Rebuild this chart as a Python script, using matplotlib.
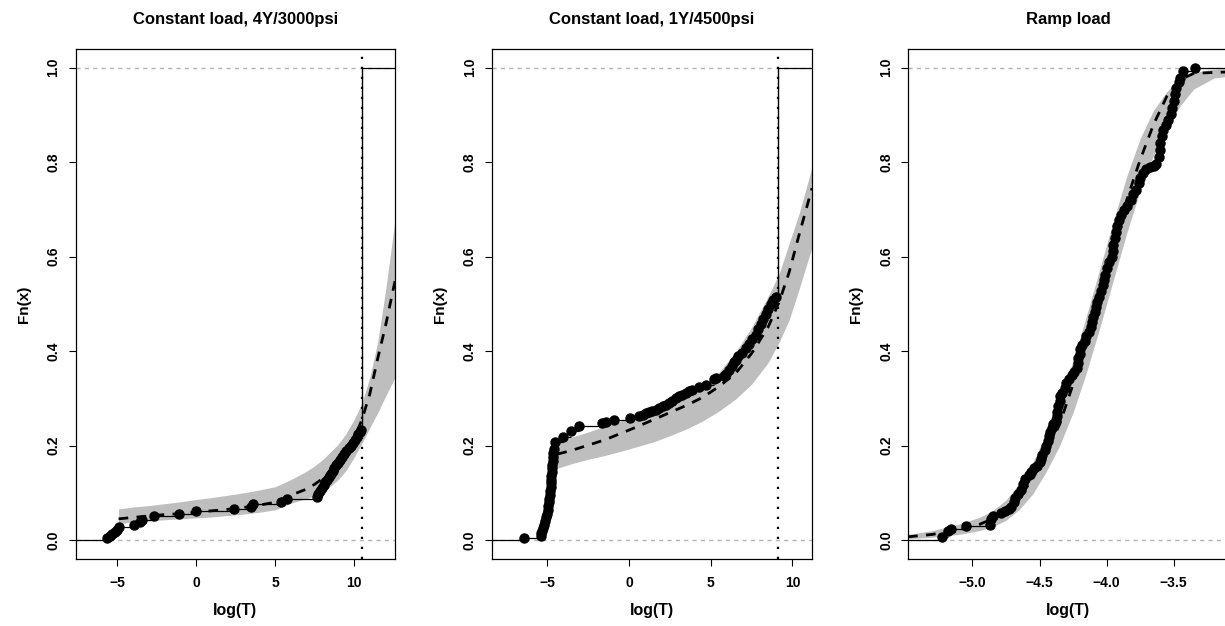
import numpy as np
import matplotlib
matplotlib.use('Agg')
import matplotlib.pyplot as plt

plt.rcParams['font.family'] = ['Liberation Sans', 'DejaVu Sans']
plt.rcParams['font.weight'] = 'bold'

titles = ['Constant load, 4Y/3000psi', 'Constant load, 1Y/4500psi', 'Ramp load']
y_ticks = [0.0, 0.2, 0.4, 0.6, 0.8, 1.0]
y_ticklabels = ['0.0', '0.2', '0.4', '0.6', '0.8', '1.0']

# panel 1: constant load 4Y/3000psi
x1 = [-5.61, -5.45, -5.3, -5.15, -5.0, -4.88, -3.92, -3.54, -3.42, -2.64, -1.08, -0.02,
      2.41, 3.46, 3.6, 5.36, 5.78, 7.64, 7.74, 7.85, 7.96, 8.07, 8.18, 8.29, 8.40,
      8.52, 8.64, 8.76, 8.88, 9.0, 9.13, 9.26, 9.39, 9.52, 9.65, 9.78, 9.92, 10.04,
      10.16, 10.27, 10.36, 10.44]
y1 = [0.004, 0.008, 0.013, 0.018, 0.022, 0.027, 0.033, 0.038, 0.043, 0.050, 0.056, 0.061,
      0.066, 0.071, 0.076, 0.081, 0.086, 0.092, 0.098, 0.104, 0.110, 0.116, 0.122, 0.128,
      0.134, 0.140, 0.146, 0.152, 0.158, 0.164, 0.170, 0.176, 0.182, 0.188, 0.194, 0.200,
      0.206, 0.212, 0.218, 0.224, 0.229, 0.234]
cens1 = 10.53
fit_x1 = [-4.9, -4, -3, -2, -1, 0, 1, 2, 3, 4, 5, 6, 7, 7.5, 8, 9, 9.5, 10, 10.5, 11, 11.5, 12, 12.6]
fit_y1 = [0.045, 0.048, 0.051, 0.054, 0.056, 0.059, 0.062, 0.065, 0.069, 0.074, 0.080, 0.095,
          0.108, 0.118, 0.130, 0.163, 0.186, 0.215, 0.255, 0.31, 0.385, 0.455, 0.55]
lo1 = [0.035, 0.038, 0.041, 0.043, 0.045, 0.047, 0.049, 0.052, 0.055, 0.059, 0.064, 0.078,
       0.088, 0.094, 0.100, 0.128, 0.148, 0.175, 0.205, 0.238, 0.27, 0.305, 0.345]
hi1 = [0.066, 0.070, 0.073, 0.077, 0.081, 0.086, 0.090, 0.095, 0.100, 0.106, 0.113, 0.128,
       0.146, 0.157, 0.170, 0.203, 0.226, 0.255, 0.29, 0.345, 0.42, 0.53, 0.68]

# panel 2: constant load 1Y/4500psi
x2 = [-6.45, -5.42, -5.36, -5.3, -5.25, -5.2, -5.14, -5.08, -5.03, -4.99, -4.95, -4.91,
      -4.88, -4.85, -4.82, -4.8, -4.78, -4.76, -4.75, -4.74, -4.72, -4.7, -4.68, -4.66,
      -4.63, -4.6, -4.53, -4.04, -3.57, -3.06, -1.63, -1.4, -0.92, 0.04, 0.61, 0.85, 1.02,
      1.25, 1.43, 1.65, 1.84, 2.05, 2.25, 2.45, 2.65, 2.85, 3.06, 3.27, 3.47, 3.68, 3.88,
      4.29, 4.7, 5.21, 5.3, 5.82, 5.95, 6.12, 6.3, 6.45, 6.53, 6.7, 6.94, 7.15, 7.35, 7.55,
      7.76, 7.92, 8.06, 8.2, 8.37, 8.52, 8.68, 8.82, 8.98]
y2 = [0.004, 0.008, 0.014, 0.020, 0.026, 0.032, 0.040, 0.048, 0.056, 0.064, 0.072, 0.080,
      0.088, 0.096, 0.104, 0.112, 0.120, 0.128, 0.136, 0.144, 0.152, 0.160, 0.168, 0.176,
      0.184, 0.192, 0.208, 0.218, 0.230, 0.241, 0.248, 0.251, 0.254, 0.258, 0.262, 0.265,
      0.268, 0.271, 0.273, 0.276, 0.279, 0.283, 0.287, 0.291, 0.295, 0.300, 0.304, 0.307,
      0.311, 0.315, 0.318, 0.324, 0.329, 0.340, 0.344, 0.347, 0.352, 0.360, 0.368, 0.376,
      0.382, 0.389, 0.396, 0.406, 0.415, 0.425, 0.435, 0.446, 0.457, 0.468, 0.479, 0.490,
      0.500, 0.508, 0.515]
cens2 = 9.12
fit_x2 = [-4.39, -3.5, -2.5, -1.5, -0.5, 0.5, 1.5, 2.5, 3.5, 4.5, 5.5, 6.5, 7.5, 8.5, 9.2,
          9.8, 10.4, 11.2]
fit_y2 = [0.182, 0.19, 0.201, 0.212, 0.226, 0.24, 0.255, 0.27, 0.285, 0.302, 0.325, 0.352,
          0.395, 0.45, 0.505, 0.567, 0.645, 0.745]
lo2 = [0.152, 0.162, 0.171, 0.179, 0.188, 0.198, 0.208, 0.221, 0.235, 0.252, 0.273, 0.298,
       0.33, 0.375, 0.42, 0.466, 0.53, 0.62]
hi2 = [0.205, 0.218, 0.229, 0.241, 0.252, 0.264, 0.277, 0.292, 0.308, 0.327, 0.355, 0.397,
       0.45, 0.515, 0.565, 0.628, 0.69, 0.79]

# panel 3: ramp load
x3 = [-5.23, -5.18, -5.16, -5.05, -4.87, -4.86, -4.85, -4.79, -4.76, -4.73, -4.71, -4.69,
      -4.68, -4.66, -4.64, -4.62, -4.61, -4.58, -4.56, -4.54, -4.52, -4.5, -4.49, -4.48,
      -4.46, -4.45, -4.44, -4.43, -4.42, -4.41, -4.4, -4.38, -4.37, -4.37, -4.36, -4.35,
      -4.35, -4.33, -4.31, -4.3, -4.28, -4.26, -4.24, -4.22, -4.21, -4.21, -4.2, -4.2,
      -4.18, -4.16, -4.15, -4.13, -4.12, -4.11, -4.1, -4.09, -4.08, -4.07, -4.06, -4.04,
      -4.03, -4.02, -4.01, -4.0, -3.98, -3.96, -3.95, -3.95, -3.94, -3.93, -3.92, -3.91,
      -3.89, -3.87, -3.85, -3.82, -3.8, -3.78, -3.76, -3.75, -3.73, -3.71, -3.68, -3.65,
      -3.63, -3.61, -3.6, -3.6, -3.59, -3.58, -3.56, -3.54, -3.52, -3.51, -3.5, -3.49,
      -3.48, -3.46, -3.45, -3.43, -3.34]
y3 = [0.007, 0.020, 0.024, 0.029, 0.033, 0.045, 0.052, 0.057, 0.061, 0.065, 0.071, 0.080,
      0.089, 0.098, 0.107, 0.118, 0.130, 0.137, 0.145, 0.152, 0.157, 0.165, 0.172, 0.180,
      0.190, 0.200, 0.210, 0.220, 0.228, 0.237, 0.245, 0.255, 0.262, 0.272, 0.283, 0.295,
      0.304, 0.312, 0.322, 0.332, 0.342, 0.349, 0.355, 0.365, 0.375, 0.385, 0.395, 0.405,
      0.413, 0.422, 0.431, 0.440, 0.452, 0.462, 0.472, 0.482, 0.494, 0.505, 0.515, 0.527,
      0.540, 0.550, 0.562, 0.575, 0.588, 0.600, 0.612, 0.625, 0.640, 0.652, 0.665, 0.677,
      0.688, 0.698, 0.708, 0.720, 0.732, 0.742, 0.755, 0.766, 0.778, 0.785, 0.790, 0.792,
      0.797, 0.810, 0.826, 0.840, 0.855, 0.868, 0.878, 0.890, 0.903, 0.915, 0.930, 0.945,
      0.958, 0.970, 0.978, 0.993, 1.0]
fit_x3 = [-5.48, -5.3, -5.1, -4.95, -4.85, -4.75, -4.65, -4.55, -4.45, -4.35, -4.25, -4.15,
          -4.05, -3.95, -3.85, -3.75, -3.65, -3.55, -3.45, -3.35, -3.2, -3.09]
fit_y3 = [0.007, 0.012, 0.022, 0.033, 0.045, 0.062, 0.09, 0.13, 0.185, 0.245, 0.33, 0.425,
          0.525, 0.625, 0.72, 0.805, 0.88, 0.94, 0.975, 0.988, 0.99, 0.991]
lo3 = [0.003, 0.006, 0.012, 0.02, 0.028, 0.042, 0.065, 0.098, 0.145, 0.20, 0.27, 0.355,
       0.45, 0.55, 0.65, 0.74, 0.815, 0.875, 0.92, 0.955, 0.978, 0.982]
hi3 = [0.012, 0.02, 0.034, 0.048, 0.062, 0.085, 0.12, 0.165, 0.225, 0.295, 0.38, 0.475,
       0.575, 0.675, 0.77, 0.85, 0.91, 0.95, 0.978, 0.99, 0.997, 0.998]

xlims = [(-7.61, 12.59), (-8.39, 11.2), (-5.478, -3.093)]
xticks = [[-5, 0, 5, 10], [-5, 0, 5, 10], [-5.0, -4.5, -4.0, -3.5]]
xticklabels = [['\u22125', '0', '5', '10'], ['\u22125', '0', '5', '10'],
               ['\u22125.0', '\u22124.5', '\u22124.0', '\u22123.5']]

fig = plt.figure(figsize=(12.25, 6.26), dpi=100)
lefts = [75.7 / 1225, 492 / 1225, 908.3 / 1225]
widths = [319.3 / 1225, 320 / 1225, 320 / 1225]

panels = [(x1, y1, fit_x1, fit_y1, lo1, hi1, cens1),
          (x2, y2, fit_x2, fit_y2, lo2, hi2, cens2),
          (x3, y3, fit_x3, fit_y3, lo3, hi3, None)]

for i, (x, y, fx, fy, lo, hi, cens) in enumerate(panels):
    ax = fig.add_axes([lefts[i], 67 / 626, widths[i], 510.2 / 626])
    xl = xlims[i]
    ax.set_xlim(xl)
    ax.set_ylim(-0.04, 1.04)

    ax.axhline(0, color='#b3b3b3', lw=1, ls=(0, (3, 3)), zorder=1)
    ax.axhline(1, color='#b3b3b3', lw=1, ls=(0, (3, 3)), zorder=1)

    ax.fill_between(fx, lo, hi, color='#bebebe', lw=0, zorder=2)
    ax.plot(fx, fy, color='black', lw=2, ls=(0, (3.5, 3)), zorder=3)

    # empirical cdf: horizontal steps
    end = cens if cens is not None else xl[1] + 1
    starts = np.concatenate([[xl[0] - 1], x])
    stops = np.concatenate([x, [end]])
    levels = np.concatenate([[0], y])
    ax.hlines(levels, starts, stops, color='black', lw=0.9, zorder=4)
    ax.plot(x, y, 'o', color='black', ms=6.5, mec='black', zorder=5)

    if cens is not None:
        ax.vlines(cens, y[-1], 1, color='black', lw=1.0, zorder=4)
        ax.hlines(1, cens, xl[1] + 1, color='black', lw=0.9, zorder=4)
        ax.axvline(cens, color='black', lw=1.6, ls=(0, (1, 3.5)), zorder=6)

    ax.set_xticks(xticks[i])
    ax.set_xticklabels(xticklabels[i])
    ax.set_yticks(y_ticks)
    ax.set_yticklabels(y_ticklabels, rotation=90, va='center')
    ax.tick_params(direction='out', length=5, width=0.8, labelsize=10, pad=7)
    ax.tick_params(axis='y', pad=6)
    for s in ax.spines.values():
        s.set_linewidth(0.9)

    ax.set_title(titles[i], fontsize=12, fontweight='bold', pad=18)
    ax.set_xlabel('log(T)', fontsize=11.5, fontweight='bold')
    ax.xaxis.set_label_coords(0.5, -0.086)
    ax.set_ylabel('Fn(x)', fontsize=11, fontweight='bold', va='center')
    ax.yaxis.set_label_coords(-0.163, 0.5)

fig.savefig('out.png', dpi=100)
